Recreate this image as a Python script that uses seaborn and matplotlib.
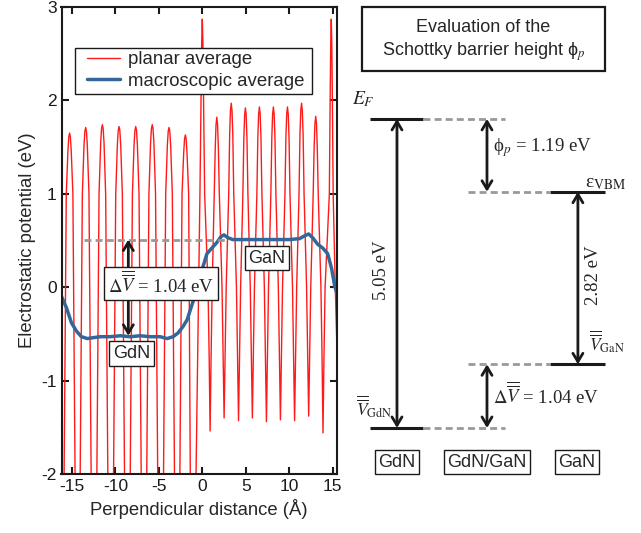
import matplotlib
matplotlib.use('Agg')
import matplotlib.pyplot as plt
import seaborn as sns
from matplotlib.patches import Rectangle

# planar average of the electrostatic potential
planar_x = [
    -16.25, -15.90, -15.65, -15.46, -15.36, -15.27, -15.18, -15.08, -14.89, -14.64,
    -14.35, -14.05, -13.80, -13.61, -13.51, -13.42, -13.33, -13.23, -13.04, -12.79,
    -12.46, -12.13, -11.88, -11.69, -11.59, -11.50, -11.41, -11.31, -11.12, -10.87,
    -10.54, -10.21, -9.96, -9.77, -9.67, -9.58, -9.49, -9.39, -9.20, -8.95,
    -8.62, -8.29, -8.04, -7.85, -7.75, -7.66, -7.57, -7.47, -7.28, -7.03,
    -6.71, -6.39, -6.14, -5.95, -5.85, -5.76, -5.67, -5.57, -5.38, -5.13,
    -4.80, -4.46, -4.21, -4.02, -3.92, -3.83, -3.74, -3.64, -3.45, -3.20,
    -2.89, -2.58, -2.33, -2.14, -2.04, -1.95, -1.86, -1.76, -1.57, -1.38,
    -1.05, -0.72, -0.27, -0.15, -0.07, 0.00, 0.07, 0.15, 0.27,
    0.66, 0.79, 0.90, 1.01, 1.14,
    1.38, 1.49, 1.58, 1.67, 1.76, 1.85, 1.96,
    2.27, 2.40, 2.51, 2.62, 2.75,
    3.04, 3.15, 3.24, 3.33, 3.42, 3.51, 3.62,
    3.93, 4.06, 4.17, 4.28, 4.41,
    4.67, 4.78, 4.87, 4.96, 5.05, 5.14, 5.25,
    5.52, 5.65, 5.76, 5.87, 6.00,
    6.28, 6.39, 6.48, 6.57, 6.66, 6.75, 6.86,
    7.14, 7.27, 7.38, 7.49, 7.62,
    7.89, 8.00, 8.09, 8.18, 8.27, 8.36, 8.47,
    8.75, 8.88, 8.99, 9.10, 9.23,
    9.51, 9.62, 9.71, 9.80, 9.89, 9.98, 10.09,
    10.38, 10.51, 10.62, 10.73, 10.86,
    11.13, 11.24, 11.33, 11.42, 11.51, 11.60, 11.71,
    12.00, 12.13, 12.24, 12.35, 12.48,
    12.76, 12.87, 12.96, 13.05, 13.14, 13.23, 13.34,
    13.65, 13.78, 13.89, 14.00, 14.13,
    14.62, 14.71, 14.78, 14.84, 14.90, 14.97, 15.06, 15.30, 15.60,
]
planar_y = [
    -4.0, -2.0, 1.0, 1.46, 1.61, 1.65, 1.61, 1.46, 1.0, -2.0,
    -4.0, -2.0, 1.0, 1.52, 1.67, 1.71, 1.67, 1.52, 1.0, -2.0,
    -4.0, -2.0, 1.0, 1.55, 1.70, 1.74, 1.70, 1.55, 1.0, -2.0,
    -4.0, -2.0, 1.0, 1.53, 1.68, 1.72, 1.68, 1.53, 1.0, -2.0,
    -4.0, -2.0, 1.0, 1.53, 1.68, 1.72, 1.68, 1.53, 1.0, -2.0,
    -4.0, -2.0, 1.0, 1.55, 1.70, 1.74, 1.70, 1.55, 1.0, -2.0,
    -4.0, -2.0, 1.0, 1.52, 1.67, 1.71, 1.67, 1.52, 1.0, -2.0,
    -4.0, -2.0, 1.0, 1.44, 1.59, 1.63, 1.59, 1.44, 1.0, -2.0,
    -4.0, -2.0, 1.0, 2.0, 2.62, 2.87, 2.62, 2.0, 1.0,
    0.0, -0.75, -1.54, -0.75, 0.0,
    1.0, 1.49, 1.74, 1.82, 1.74, 1.49, 1.0,
    0.0, -0.75, -1.40, -0.75, 0.0,
    1.0, 1.64, 1.89, 1.97, 1.89, 1.64, 1.0,
    0.0, -0.75, -1.43, -0.75, 0.0,
    1.0, 1.59, 1.84, 1.92, 1.84, 1.59, 1.0,
    0.0, -0.75, -1.40, -0.75, 0.0,
    1.0, 1.60, 1.85, 1.93, 1.85, 1.60, 1.0,
    0.0, -0.75, -1.44, -0.75, 0.0,
    1.0, 1.60, 1.85, 1.93, 1.85, 1.60, 1.0,
    0.0, -0.75, -1.42, -0.75, 0.0,
    1.0, 1.60, 1.85, 1.93, 1.85, 1.60, 1.0,
    0.0, -0.75, -1.43, -0.75, 0.0,
    1.0, 1.64, 1.89, 1.97, 1.89, 1.64, 1.0,
    0.0, -0.75, -1.38, -0.75, 0.0,
    1.0, 1.50, 1.75, 1.83, 1.75, 1.50, 1.0,
    0.0, -0.75, -1.56, -0.75, 0.0,
    1.0, 2.0, 2.62, 2.87, 2.62, 2.0, 1.0, 0.0, -1.0,
]

# macroscopic average
macro_x = [-16.20, -15.63, -15.06, -14.48, -13.91, -13.22, -12.53, -11.73, -10.58, -9.44,
           -8.29, -7.14, -6.00, -4.85, -4.05, -3.36, -2.79, -2.21, -1.75, -1.30,
           -0.84, -0.38, 0.08, 0.54, 1.11, 1.69, 2.14, 2.49, 2.94, 3.52,
           4.89, 6.61, 8.33, 10.05, 11.19, 11.77, 12.24, 12.70, 13.27, 13.85,
           14.42, 14.88, 15.22, 15.46]
macro_y = [-0.10, -0.22, -0.38, -0.47, -0.53, -0.55, -0.54, -0.53, -0.53, -0.52,
           -0.53, -0.52, -0.53, -0.53, -0.55, -0.53, -0.49, -0.42, -0.35, -0.22,
           -0.09, 0.08, 0.22, 0.36, 0.42, 0.48, 0.54, 0.56, 0.53, 0.51,
           0.51, 0.51, 0.51, 0.51, 0.52, 0.55, 0.57, 0.53, 0.46, 0.42,
           0.36, 0.20, 0.02, -0.06]

# plateau levels of the macroscopic average and the step between them
gdn_level = -0.52
gan_level = 0.51
dashed_x = [-13.57, 2.80]
arrow_x = -8.51
delta_v = 1.04

# band alignment (eV, relative to V_GdN)
columns = ['GdN', 'GdN/GaN', 'GaN']
e_vgdn = 0.0
e_vgan = 1.04
e_vbm = 3.86
e_f = 5.05
phi_p = 1.19
gap_gdn = 5.05
gap_gan = 2.82

sns.set_theme(style='ticks')
plt.rcParams['font.family'] = ['Liberation Sans', 'DejaVu Sans']
plt.rcParams['mathtext.fontset'] = 'stix'
plt.rcParams['axes.unicode_minus'] = False

VBAR = r'\overline{\overline{V}}'
serif = ['Liberation Serif', 'DejaVu Serif']

fig = plt.figure(figsize=(6.41, 5.33), dpi=100)
ax = fig.add_axes([61.5 / 641, 59 / 533, 275.5 / 641, 467 / 533])

sns.lineplot(x=planar_x, y=planar_y, ax=ax, color='#ff1a1a', lw=1.0,
             label='planar average', sort=False, estimator=None)
sns.lineplot(x=macro_x, y=macro_y, ax=ax, color='#336699', lw=2.5,
             label='macroscopic average', sort=False, estimator=None)

ax.plot(dashed_x, [gan_level, gan_level], color='#999999', lw=2,
        ls=(0, (2.5, 1.5)), zorder=4)
ax.annotate('', xy=(arrow_x, gan_level), xytext=(arrow_x, gdn_level),
            arrowprops=dict(arrowstyle='<->,head_length=0.5,head_width=0.3',
                            color='k', lw=2, shrinkA=0, shrinkB=0,
                            mutation_scale=12), zorder=5)
box = dict(boxstyle='square,pad=0.2', fc='white', ec='k', lw=1)
ax.text(-4.73, 0.04, r'$\Delta%s$ = %.2f eV' % (VBAR, delta_v), family=serif,
        ha='center', va='center', fontsize=13.5, bbox=box, zorder=6)
ax.text(-8.17, -0.71, 'GdN', ha='center', va='center', fontsize=13, bbox=box, zorder=6)
ax.text(7.44, 0.31, 'GaN', ha='center', va='center', fontsize=13, bbox=box, zorder=6)

ax.set_xlim(-16.2, 15.5)
ax.set_ylim(-2, 3)
ax.set_xticks([-15, -10, -5, 0, 5, 10, 15])
ax.set_yticks([-2, -1, 0, 1, 2, 3])
ax.tick_params(direction='in', top=True, right=True, length=5, width=1.5,
               labelsize=12.5, colors='k')
for s in ax.spines.values():
    s.set_linewidth(1.5)
    s.set_color('k')
ax.set_xlabel('Perpendicular distance (Å)', fontsize=13.3)
ax.set_ylabel('Electrostatic potential (eV)', fontsize=13.3)

# legend: white framed box, drawn separately so the padding matches
ax.add_patch(Rectangle((0.049, 0.814), 0.860, 0.098, transform=ax.transAxes,
                       fc='white', ec='k', lw=1.0, zorder=9))
leg = ax.legend(loc='upper left', bbox_to_anchor=(0.0926, 0.905), borderaxespad=0,
                borderpad=0, frameon=False, fontsize=13.4, handlelength=1.75,
                handletextpad=0.45, labelspacing=0.22)
leg.set_zorder(10)

# right panel: band alignment diagram
rx = fig.add_axes([340 / 641, 0, 301 / 641, 1])
rx.set_xlim(-0.633, 2.711)
rx.set_ylim(-1.716, 6.993)
rx.axis('off')

solid = dict(color='k', lw=2.2, solid_capstyle='butt')
dash = dict(color='#999999', lw=2, ls=(0, (2.5, 1.5)))
for e in [e_f, e_vgdn]:
    rx.plot([-0.30, 0.29], [e, e], **solid)
    rx.plot([0.29, 1.20], [e, e], **dash)
for e in [e_vbm, e_vgan]:
    rx.plot([1.70, 2.31], [e, e], **solid)
    rx.plot([0.79, 1.70], [e, e], **dash)

arr = dict(arrowstyle='<->,head_length=0.5,head_width=0.3', color='k', lw=2,
           shrinkA=0, shrinkB=0, mutation_scale=12)
rx.annotate('', xy=(0, e_f), xytext=(0, e_vgdn), arrowprops=arr)
rx.annotate('', xy=(1, e_f), xytext=(1, e_vbm), arrowprops=arr)
rx.annotate('', xy=(2.01, e_vbm), xytext=(2.01, e_vgan), arrowprops=arr)
rx.annotate('', xy=(1, e_vgan), xytext=(1, e_vgdn), arrowprops=arr)

rx.text(-0.17, (e_f + e_vgdn) / 2 + 0.05, '%.2f eV' % gap_gdn, rotation=90,
        ha='center', va='center', fontsize=13.5, family=serif)
rx.text(2.18, (e_vbm + e_vgan) / 2 + 0.05, '%.2f eV' % gap_gan, rotation=90,
        ha='center', va='center', fontsize=13.5, family=serif)
rx.text(1.067, 4.59, 'ϕ$_{p}$ = %.2f eV' % phi_p,
        ha='left', va='center', fontsize=13.5, family=serif)
rx.text(1.067, 0.54, r'$\Delta%s$ = %.2f eV' % (VBAR, delta_v),
        ha='left', va='center', fontsize=13.5, family=serif)
rx.text(-0.50, 5.29, r'$E_F$', ha='left', va='baseline', fontsize=14)
rx.text(2.089, 3.94, r'ε$_{\mathrm{VBM}}$', ha='left', va='baseline', fontsize=14,
        family=serif)
rx.text(2.135, 1.27, r'$%s_{\mathrm{GaN}}$' % VBAR, ha='left', va='baseline', fontsize=12.5)
rx.text(-0.455, 0.20, r'$%s_{\mathrm{GdN}}$' % VBAR, ha='left', va='baseline', fontsize=12.5)

for i, c in enumerate(columns):
    rx.text(i, -0.556, c, ha='center', va='center', fontsize=13,
            bbox=dict(boxstyle='square,pad=0.2', fc='white', ec='k', lw=1))

rx.add_patch(Rectangle((-0.389, 5.833), 2.7, 1.046, fill=False, ec='k', lw=1.6))
rx.text(0.961, 6.536, 'Evaluation of the', ha='center', va='center', fontsize=13)
rx.text(0.961, 6.144, 'Schottky barrier height ϕ$_{p}$', ha='center', va='center',
        fontsize=13, family=['Liberation Sans', 'DejaVu Serif'])

fig.savefig('out.png', dpi=100)
